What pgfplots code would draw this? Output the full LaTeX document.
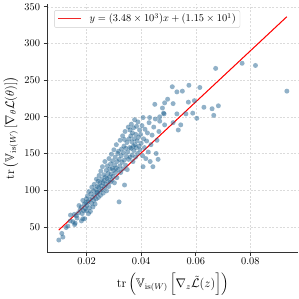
\documentclass[border=0pt]{standalone}
\usepackage{amsmath,amssymb}
\usepackage{pgfplots}
\pgfplotsset{compat=1.18}
\definecolor{ptblue}{RGB}{35,100,145}
\definecolor{legred}{RGB}{240,40,40}
\pgfdeclareplotmark{fcirc}{\pgfpathcircle{\pgfpoint{0pt}{0pt}}{\pgfplotmarksize}\pgfusepathqfill}
\begin{document}
\begin{tikzpicture}
\begin{axis}[
  scale only axis,
  width=242pt, height=239pt,
  xmin=0.0056, xmax=0.0976,
  ymin=15.6, ymax=353.6,
  axis x line*=bottom, axis y line*=left,
  axis line style={black!80, line width=0.8pt},
  xtick={0.02,0.04,0.06,0.08},
  ytick={50,100,150,200,250,300,350},
  xticklabel style={/pgf/number format/fixed, /pgf/number format/precision=2, /pgf/number format/fixed zerofill, yshift=1.5pt},
  scaled x ticks=false,
  tick align=outside,
  major tick length=3.5pt,
  tick style={black!80, line width=0.6pt},
  tick label style={font=\normalsize},
  grid=major,
  major grid style={dash pattern=on 2pt off 1.5pt, black!14, line width=0.4pt},
  xlabel={$\mathrm{tr}\left(\mathbb{V}_{\mathrm{is}(W)}\left[\nabla_z \tilde{\mathcal{L}}(z)\right]\right)$},
  ylabel={$\mathrm{tr}\left(\mathbb{V}_{\mathrm{is}(W)}\left[\nabla_\theta \mathcal{L}(\theta)\right]\right)$},
  label style={font=\large},
  xlabel style={yshift=-1.5pt},
  ylabel style={yshift=-1pt},
]
\addplot[only marks, mark=fcirc, mark size=2.4pt, color=ptblue, mark options={fill=ptblue, fill opacity=0.5}] table {
x y
0.0098 32
0.0113 36
0.0109 41
0.0125 49
0.0131 51
0.0141 66
0.0140 58
0.0150 57
0.0156 53
0.0158 55
0.0162 65
0.0155 67
0.0165 62
0.0172 79
0.0170 69
0.0176 73
0.0181 77
0.0181 58
0.0184 68
0.0186 61
0.0186 86
0.0189 72
0.0192 81
0.0193 61
0.0195 75
0.0197 83
0.0199 72
0.0199 88
0.0201 79
0.0203 92
0.0205 84
0.0207 68
0.0208 98
0.0210 76
0.0212 87
0.0214 71
0.0216 95
0.0218 82
0.0219 104
0.0221 90
0.0223 77
0.0225 99
0.0226 86
0.0228 108
0.0230 93
0.0231 81
0.0233 101
0.0235 88
0.0236 115
0.0238 96
0.0239 105
0.0240 97
0.0242 112
0.0243 90
0.0245 104
0.0246 120
0.0248 99
0.0249 110
0.0251 93
0.0252 126
0.0254 106
0.0255 115
0.0257 101
0.0258 132
0.0260 110
0.0261 96
0.0263 121
0.0264 113
0.0266 104
0.0267 139
0.0269 118
0.0270 108
0.0272 127
0.0273 99
0.0275 116
0.0276 133
0.0278 112
0.0279 123
0.0281 105
0.0282 143
0.0284 118
0.0285 129
0.0287 111
0.0288 136
0.0290 122
0.0291 149
0.0293 114
0.0294 130
0.0296 140
0.0297 119
0.0299 127
0.0300 155
0.0302 110
0.0303 134
0.0305 145
0.0306 124
0.0308 130
0.0309 162
0.0311 117
0.0312 139
0.0314 150
0.0316 128
0.0317 153
0.0319 84
0.0320 142
0.0322 133
0.0323 168
0.0325 124
0.0327 147
0.0328 156
0.0330 138
0.0332 174
0.0333 129
0.0335 151
0.0337 160
0.0338 141
0.0339 107
0.0339 169
0.0341 180
0.0343 134
0.0344 157
0.0346 146
0.0348 165
0.0349 128
0.0351 152
0.0353 186
0.0354 142
0.0356 170
0.0358 158
0.0359 182
0.0360 145
0.0362 174
0.0363 157
0.0364 190
0.0366 166
0.0367 148
0.0368 178
0.0370 139
0.0371 160
0.0372 185
0.0373 154
0.0375 170
0.0376 196
0.0377 162
0.0379 145
0.0380 176
0.0382 158
0.0383 187
0.0385 167
0.0387 150
0.0388 193
0.0390 172
0.0392 160
0.0394 182
0.0396 155
0.0398 176
0.0400 164
0.0403 188
0.0405 147
0.0407 199
0.0407 132
0.0409 170
0.0412 158
0.0414 183
0.0417 143
0.0420 167
0.0423 178
0.0426 152
0.0429 192
0.0431 199
0.0433 139
0.0436 162
0.0440 175
0.0443 132
0.0446 186
0.0450 217
0.0452 197
0.0455 150
0.0458 168
0.0462 142
0.0465 180
0.0468 194
0.0468 200
0.0478 212
0.0482 205
0.0484 204
0.0486 219
0.0486 189
0.0497 224
0.0514 241
0.0517 218
0.0517 192
0.0531 234
0.0531 204
0.0536 182
0.0545 189
0.0551 235
0.0564 204
0.0573 220
0.0575 243
0.0589 205
0.0595 222
0.0604 198
0.0615 240
0.0630 213
0.0660 211
0.0666 202
0.0673 266
0.0683 215
0.0770 273
0.0819 270
0.0934 235
};
\addplot[red, line width=1pt] coordinates {(0.0098,45.6) (0.0934,336.5)};
\node[draw=black!20, rounded corners=2pt, fill=white, anchor=north west, inner xsep=4pt, inner ysep=3pt, font=\normalsize] at (rel axis cs:0.027,0.976) {\textcolor{legred}{\rule[2.6pt]{22pt}{1.3pt}}\hspace{8pt}$y = (3.48 \times 10^{3})x + (1.15 \times 10^{1})$};
\end{axis}
\end{tikzpicture}
\end{document}
